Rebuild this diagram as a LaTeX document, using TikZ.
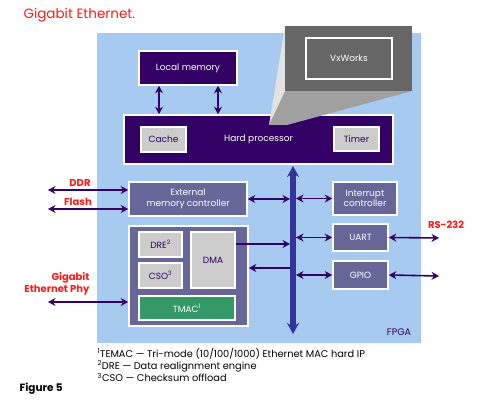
\documentclass[tikz,border=0pt]{standalone}
\usepackage{fontspec}
\setmainfont{Poppins}
\usetikzlibrary{arrows.meta,positioning,calc}
\definecolor{fpgabg}{HTML}{A6CAF0}
\definecolor{deeppurp}{HTML}{330066}
\definecolor{slatecol}{HTML}{666699}
\definecolor{greyc}{HTML}{CCCCCC}
\definecolor{tmaccol}{HTML}{339966}
\definecolor{buscol}{HTML}{333399}
\definecolor{redc}{HTML}{FF1A1A}
\definecolor{calldark}{HTML}{666666}
\definecolor{callmid}{HTML}{A0A0A0}
\definecolor{calllight}{HTML}{E2E2E2}

\begin{document}
\begin{tikzpicture}[x=1pt,y=-1pt,font=\fontsize{9}{10.5}\selectfont,
  >={Stealth[length=7.5pt,width=8pt]},
  dark/.style={draw=white,line width=1.6pt,fill=deeppurp,text=white,
               inner sep=1pt,align=center},
  slate/.style={dark,fill=slatecol},
  grey/.style={dark,fill=greyc,text=deeppurp},
  link/.style={draw=deeppurp,line width=1.6pt},
  redlbl/.style={text=redc,font=\fontsize{10}{11.5}\selectfont\bfseries,align=right},
]
\useasboundingbox (0,0) rectangle (490,409);
\fill[fpgabg] (97,33) rectangle (421,343);

% processor and its memory
\node[dark,minimum width=98pt,minimum height=34pt] (lmem) at (188,68) {Local memory};
\node[dark,minimum width=269pt,minimum height=49pt] (cpu) at (258.5,139.5) {Hard processor};
\node[grey,minimum width=45pt,minimum height=25pt] (cache) at (163.5,139.5) {Cache};
\node[grey,minimum width=45pt,minimum height=24pt] (timer) at (356.5,139) {Timer};
\coordinate (lm1) at ([xshift=-29pt]lmem.south);
\coordinate (lm2) at ([xshift=30pt]lmem.south);
\foreach \c in {lm1,lm2} { \draw[link,<->] (\c) -- (\c |- cpu.north); }

% VxWorks callout
\fill[callmid] (285,91) -- (412,91) -- (287,125) -- (269,125) -- cycle;
\fill[calllight] (285,26) -- (285,91) -- (269,125) -- cycle;
\fill[calldark] (285,26) rectangle (412,91);
\node[draw=white,line width=1.6pt,text=white,minimum width=86pt,minimum height=41pt]
  (vxw) at (349,58.5) {VxWorks};

% bus
\coordinate (bustop) at (293,166);
\coordinate (busbot) at (293,334);
\draw[buscol,line width=5.5pt,
  {Stealth[length=11pt,width=12pt]}-{Stealth[length=11pt,width=12pt]}] (bustop) -- (busbot);

% peripherals
\node[slate,minimum width=118pt,minimum height=34pt] (emc) at (188,199) {External\\memory controller};
\node[slate,minimum width=64pt,minimum height=33pt] (intc) at (365,198.5) {Interrupt\\controller};
\node[slate,minimum width=55pt,minimum height=27pt] (uart) at (360.5,237.5) {UART};
\node[slate,minimum width=55pt,minimum height=28pt] (gpio) at (360.5,275) {GPIO};

% ethernet block
\node[slate,minimum width=119pt,minimum height=100pt] (dmagrp) at (188.5,276) {};
\node[grey,minimum width=43pt,minimum height=25pt] (dre) at (160.5,244.5) {DRE\textsuperscript{2}};
\node[grey,minimum width=43pt,minimum height=25pt] (cso) at (160.5,275.5) {CSO\textsuperscript{3}};
\node[grey,minimum width=44pt,minimum height=56pt] (dma) at (213,260) {DMA};
\node[dark,fill=tmaccol,minimum width=96pt,minimum height=24pt] (tmac) at (187,308) {TMAC\textsuperscript{1}};

% links to the bus
\draw[link,<->,shorten >=3pt] (emc.east) -- (emc.east -| bustop);
\foreach \n in {intc,uart,gpio} { \draw[link,<->,shorten <=3pt] (\n.west -| bustop) -- (\n.west); }
\coordinate (dmaout) at (dma.east |- 0,244);
\coordinate (dmain) at (dmagrp.east |- 0,268);
\draw[link,->,shorten >=3pt] (dmaout) -- (dmaout -| bustop);
\draw[link,->,shorten <=3pt] (dmain -| bustop) -- (dmain);

% outside world
\coordinate (ddr) at (48,190);
\coordinate (flash) at (48,209);
\coordinate (phy) at (48,302);
\coordinate (rs) at (439,238);
\coordinate (gpioext) at (439,276);
\draw[link,<->] (ddr) -- (ddr -| emc.west);
\draw[link,<->] (flash) -- (flash -| emc.west);
\draw[link,<->] (phy) -- (phy -| dmagrp.west);
\draw[link,<->] (uart.east) -- (rs);
\draw[link,<->] (gpio.east) -- (gpioext);

\node[redlbl] (ddrlbl) at (80,183) {DDR};
\node[redlbl] (flashlbl) at (78,202) {Flash};
\node[redlbl,anchor=east] (phylbl) at (93,284) {Gigabit\\Ethernet Phy};
\node[redlbl] (rslbl) at (446,225) {RS-232};
\node[text=deeppurp,font=\fontsize{9.5}{11}\selectfont] (fpgalbl) at (399,332) {FPGA};

% title, notes
\node[text=redc,anchor=west,font=\fontsize{13.5}{15}\selectfont] (title) at (20,15) {Gigabit Ethernet.};
\node[anchor=west,align=left,font=\fontsize{9.8}{12.3}\selectfont] (notes) at (94,365)
  {\textsuperscript{1}TEMAC — Tri-mode (10/100/1000) Ethernet MAC hard IP\\
   \textsuperscript{2}DRE — Data realignment engine\\
   \textsuperscript{3}CSO — Checksum offload};
\node[anchor=west,font=\fontsize{10.5}{12}\selectfont\bfseries] (fig) at (16,389) {Figure 5};
\end{tikzpicture}
\end{document}
